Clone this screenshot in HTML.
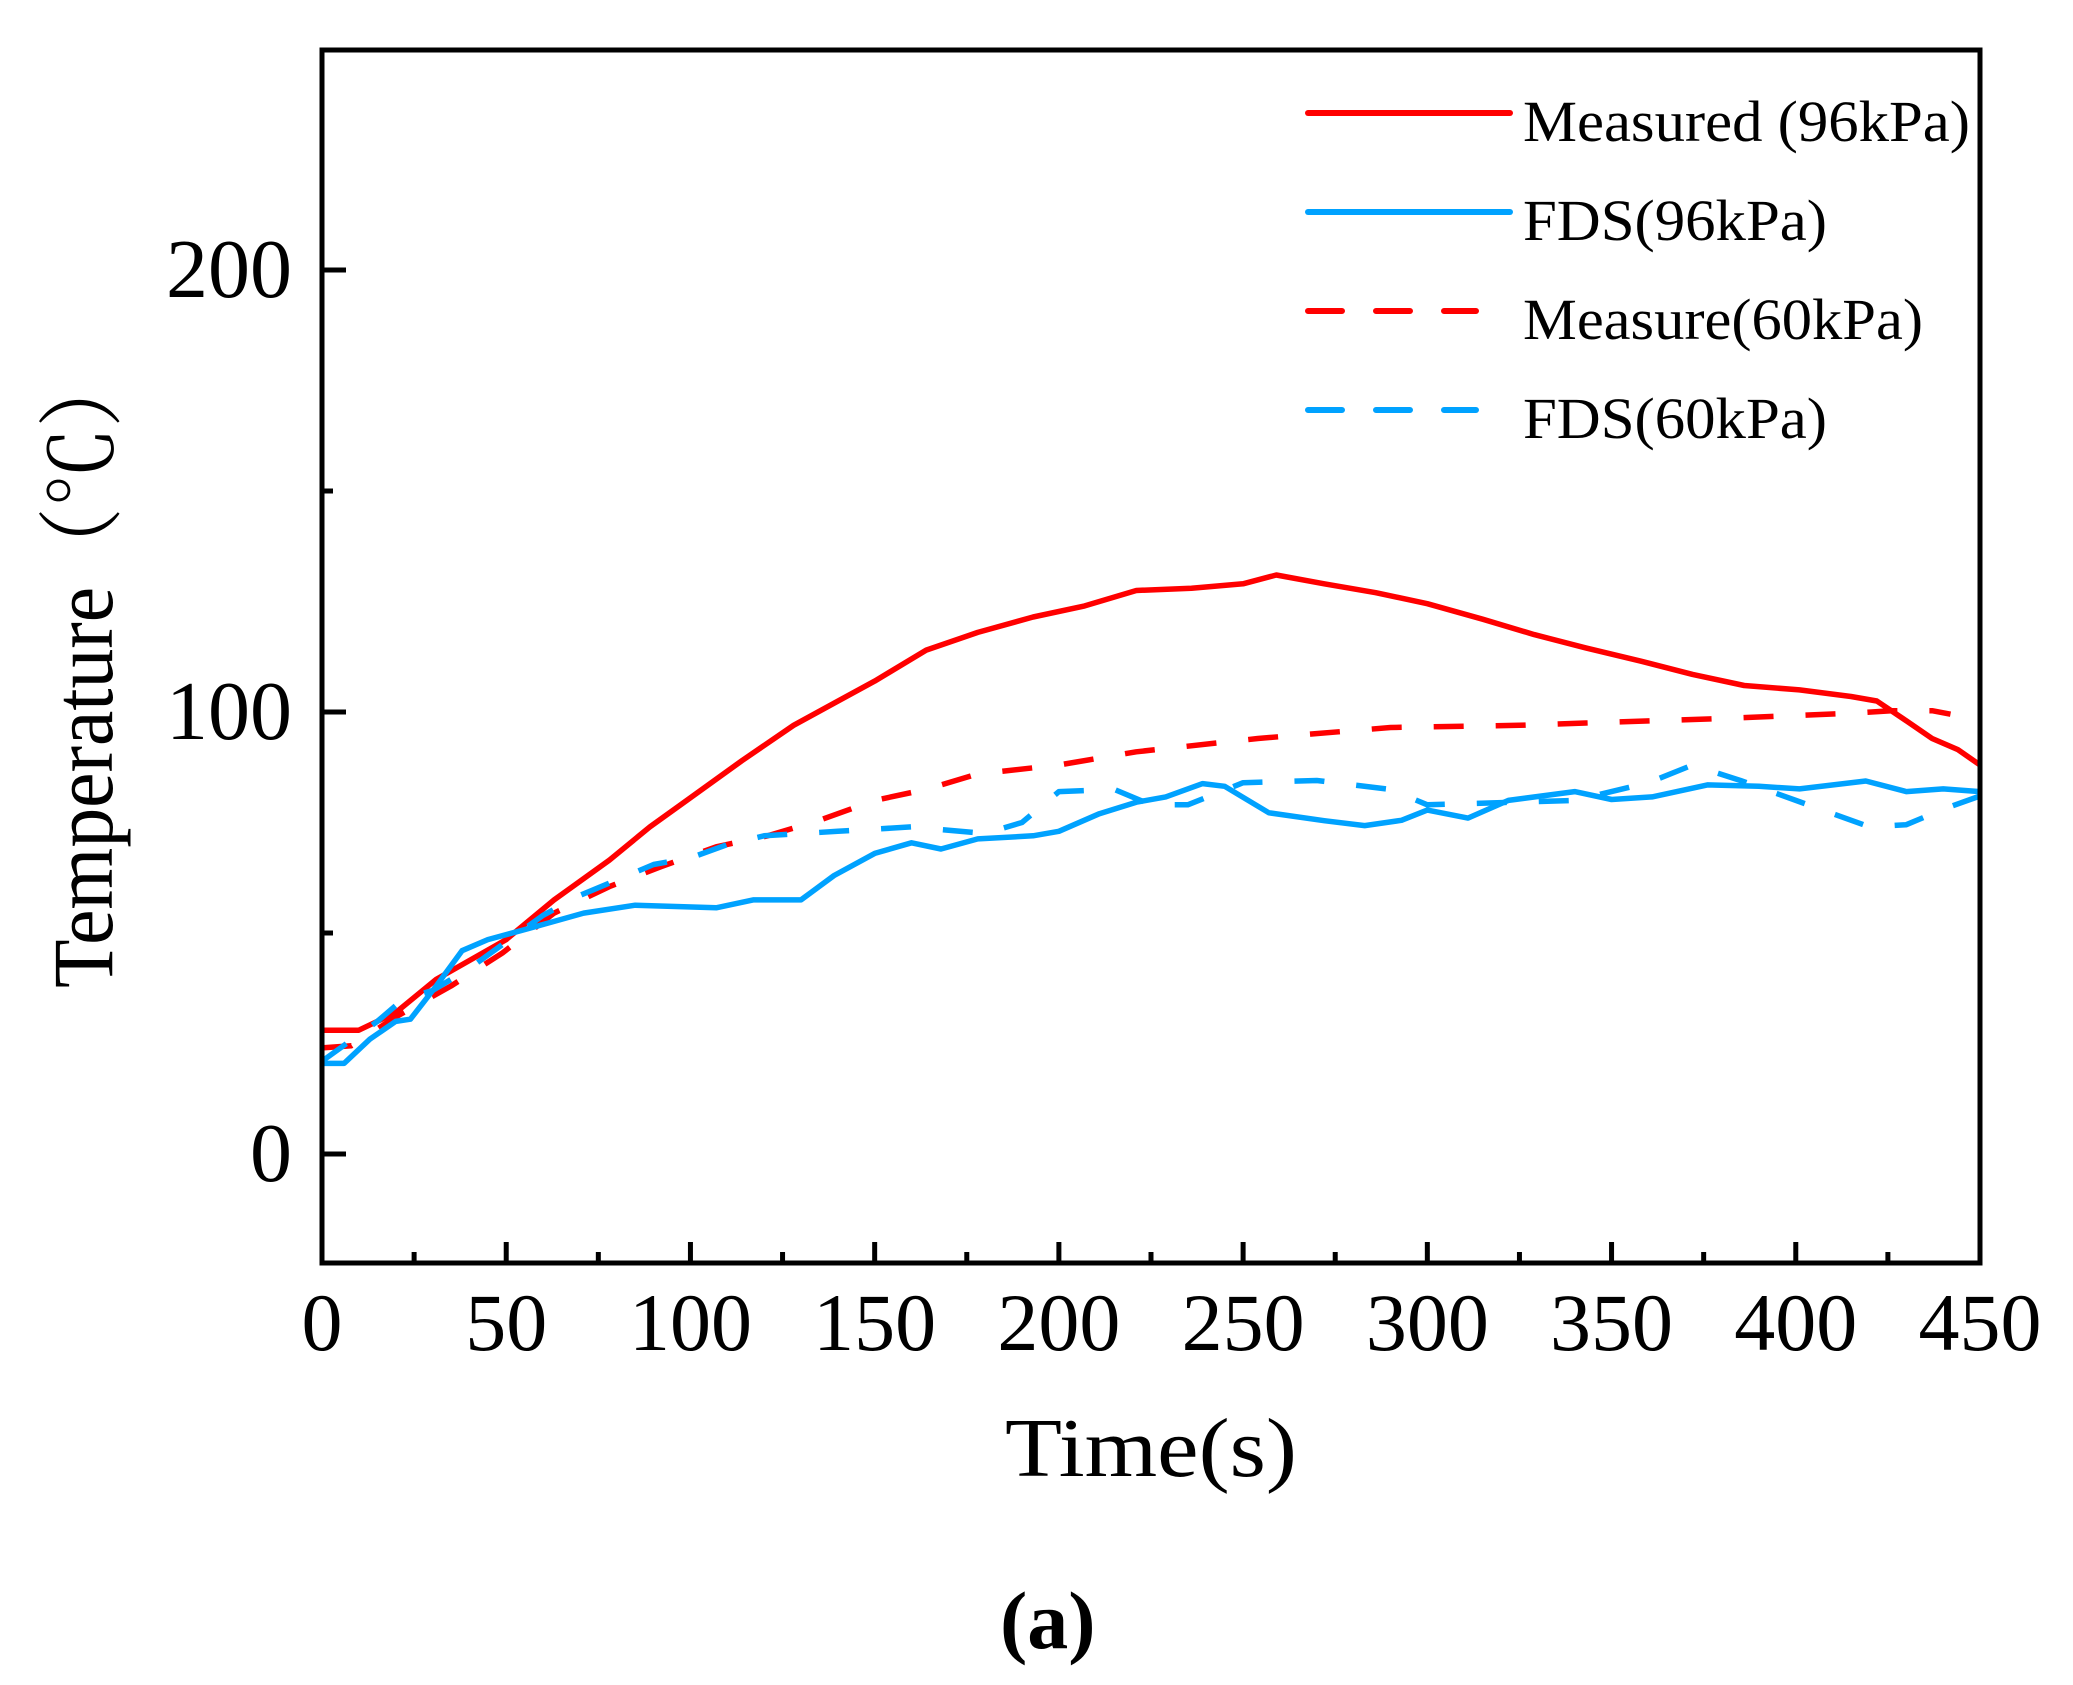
<!DOCTYPE html>
<html><head><meta charset="utf-8"><style>
html,body{margin:0;padding:0;background:#fff;}
svg{display:block;}
</style></head><body>
<svg id="chart" width="2073" height="1685" viewBox="0 0 2073 1685" xmlns="http://www.w3.org/2000/svg">
<g id="plot"></g>
<g id="axes"></g>
<text transform="translate(112,988) rotate(-90)" font-family="'Liberation Serif','Noto Serif CJK SC',serif" font-size="86" textLength="640" lengthAdjust="spacingAndGlyphs">Temperature（℃）</text>
<text x="1005" y="1476" font-family="'Liberation Serif',serif" font-size="84" textLength="292" lengthAdjust="spacingAndGlyphs">Time(s)</text>
<text x="1000" y="1648" font-family="'Liberation Serif',serif" font-size="82" font-weight="bold">(a)</text>
<g id="legend"></g>
</svg>
<script>
const xTicks = [0,50,100,150,200,250,300,350,400,450];
const yTicks = [0,100,200];
const tMeas96 = [0,10,20,31,50,63,78,89,99,114,128,139,150,164,178,193,207,221,236,250,259,272,286,300,315,329,343,358,372,386,401,415,422,430,437,444,450];
const vMeas96 = [28,28,32,39.5,48.5,57.5,66.5,74,80,89,97,102,107,114,118,121.5,124,127.5,128,129,131,129,127,124.5,121,117.5,114.5,111.5,108.5,106,105,103.5,102.5,98,94,91.5,88];
const tMeas60 = [0,8,20,35,49,63,78,92,107,121,135,150,164,178,200,221,254,290,325,343,379,415,426,437,442];
const vMeas60 = [24,24.5,31,38,45.5,54.5,60.5,65,69.5,72,75.5,80,82.5,86,88,91,94,96.5,97,97.5,98.5,99.7,100.3,100.3,99.5];
const tFds96 = [0,6,13,20,24,31,38,45,56,71,85,107,117,130,139,150,160,168,178,193,200,211,221,229,239,245,257,272,283,293,300,311,322,340,350,361,376,390,401,419,430,440,450];
const vFds96 = [20.5,20.5,26,30,30.5,38,46,48.5,51,54.5,56.3,55.7,57.5,57.5,63,68,70.4,69,71.3,72,73,77,79.6,80.8,83.8,83.2,77.2,75.4,74.3,75.5,77.8,76,80,82,80.2,80.8,83.5,83.2,82.6,84.4,82,82.6,82];
const tFds60 = [0,10,15,22,30,40,50,60,70,80,90,100,110,120,140,160,180,190,200,215,225,235,250,270,290,300,320,340,360,372,385,400,420,430,440,450];
const vFds60 = [21,27,30,35,37,42,48,54,58.5,62,65.5,67,70,72,73,74,72.5,75,82,82.5,79,79,84,84.5,82.5,79,79.5,80,84,88,84.5,80,74,74.5,78,81];

const NS='http://www.w3.org/2000/svg';
const X0=322, X1=1980, Y0=1154, Y200=270, TOP=50, BOT=1263;
const xs = t => X0 + (t/450)*(X1-X0);
const ys = v => Y0 - (v/200)*(Y0-Y200);
function mk(tag, attrs, parent){const e=document.createElementNS(NS,tag);for(const k in attrs)e.setAttribute(k,attrs[k]);parent.appendChild(e);return e;}
const plot=document.getElementById('plot'), axes=document.getElementById('axes'), legend=document.getElementById('legend');
const RED='#ff0000', BLUE='#00a2ff';
const series=[
 {t:tMeas96,v:vMeas96,c:RED,d:null,name:'line-measured-96kpa'},
 {t:tMeas60,v:vMeas60,c:RED,d:'30 32',name:'line-measure-60kpa'},
 {t:tFds60,v:vFds60,c:BLUE,d:'30 32',name:'line-fds-60kpa'},
 {t:tFds96,v:vFds96,c:BLUE,d:null,name:'line-fds-96kpa'}
];
series.forEach(s=>{
 const pts=s.t.map((t,i)=>xs(t).toFixed(1)+','+ys(s.v[i]).toFixed(1)).join(' ');
 const p=mk('polyline',{points:pts,fill:'none',stroke:s.c,'stroke-width':5.5,'stroke-linejoin':'round'},plot);
 if(s.d){p.setAttribute('stroke-dasharray',s.d);}
 
 
});
const fr=mk('rect',{x:X0,y:TOP,width:X1-X0,height:BOT-TOP,fill:'none',stroke:'#000','stroke-width':5},axes);


for(let t=0;t<=450;t+=25){
 const major=t%50===0;
 const tk=mk('line',{x1:xs(t),x2:xs(t),y1:BOT,y2:BOT-(major?21:11),stroke:'#000','stroke-width':5},axes);
 
 
}
xTicks.forEach(t=>{
 const lb=mk('text',{x:xs(t),y:1350,'text-anchor':'middle','font-family':"'Liberation Serif',serif",'font-size':82},axes);
 lb.textContent=t;
 
 
});
for(let v=0;v<=200;v+=50){
 const major=v%100===0;
 const tk=mk('line',{x1:X0,x2:X0+(major?24:11),y1:ys(v),y2:ys(v),stroke:'#000','stroke-width':5},axes);
 
 
}
yTicks.forEach(v=>{
 const lb=mk('text',{x:292,y:ys(v)+27,'text-anchor':'end','font-family':"'Liberation Serif',serif",'font-size':84},axes);
 lb.textContent=v;
 
 
});
const legItems=[
 {label:'Measured (96kPa)',c:RED,d:null,w:447},
 {label:'FDS(96kPa)',c:BLUE,d:null,w:304},
 {label:'Measure(60kPa)',c:RED,d:'34 34',w:400},
 {label:'FDS(60kPa)',c:BLUE,d:'34 34',w:304}
];
legItems.forEach((it,i)=>{
 const y=113+i*99;
 const g=mk('g',{},legend);
 
 
 const ln=mk('line',{x1:1308,x2:it.d?1476:1510,y1:y,y2:y,stroke:it.c,'stroke-width':6,'stroke-linecap':'round'},g);
 if(it.d){ln.setAttribute('stroke-dasharray',it.d);}
 const tx=mk('text',{x:1523,y:y+28,'font-family':"'Liberation Serif',serif",'font-size':58,textLength:it.w,lengthAdjust:'spacingAndGlyphs'},g);
 tx.textContent=it.label;
});
</script>
</body></html>
